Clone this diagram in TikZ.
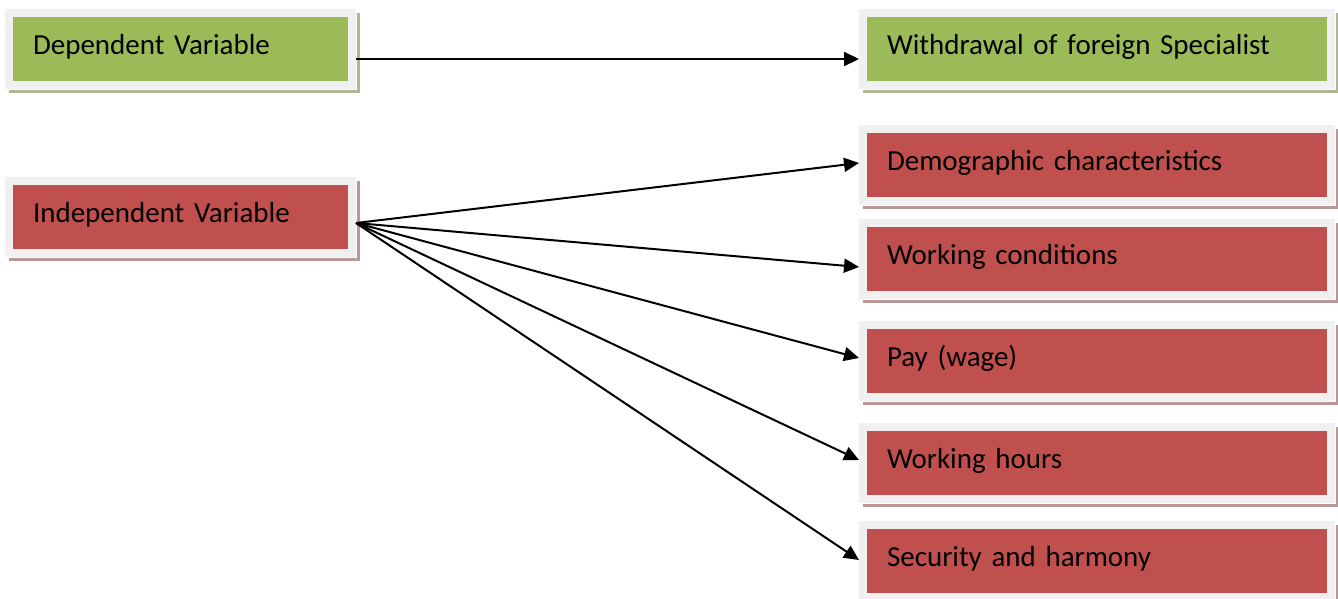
\documentclass[tikz,border=0pt]{standalone}
\usepackage{fontspec}
\setmainfont{Carlito}
\usetikzlibrary{arrows.meta}
\definecolor{gfill}{HTML}{9BBB59}
\definecolor{rfill}{HTML}{C0504D}
\definecolor{frame}{HTML}{F0F0F0}
\definecolor{gshadow}{HTML}{B0B694}
\definecolor{rshadow}{HTML}{BA9797}
\tikzset{
  box/.style={rectangle, inner xsep=24pt, inner ysep=0pt, minimum height=72pt,
    align=left, text height=20pt, text depth=8.5pt,
    font=\fontsize{29}{34}\selectfont, text=black,
    draw=frame, line width=8pt,
    preaction={draw=#1, fill=#1, line width=8pt, transform canvas={shift={(4pt,-4pt)}}},
    preaction={draw=white, line width=10pt}},
  gbox/.style={box=gshadow, fill=gfill},
  rbox/.style={box=rshadow, fill=rfill},
  lbox/.style={text width=295pt},
  wbox/.style={text width=420pt},
  conn/.style={line width=2pt, -{Triangle[length=15pt,width=14pt]}}
}
\begin{document}
\begin{tikzpicture}[x=1pt,y=-1pt]
\useasboundingbox (0,0) rectangle (1338,598);
\node[gbox,lbox] (dep) at (180.5,49) {Dependent Variable};
\node[rbox,lbox] (ind) at (180.5,217) {Independent Variable};
\node[gbox,wbox] (wd) at (1097,49) {Withdrawal of foreign Specialist};
\node[rbox,wbox] (demo) at (1097,165) {Demographic characteristics};
\node[rbox,wbox] (wc) at (1097,259) {Working conditions};
\node[rbox,wbox] (pay) at (1097,361) {Pay (wage)};
\node[rbox,wbox] (wh) at (1097,463) {Working hours};
\node[rbox,wbox] (sec) at (1097,561) {Security and harmony};
\draw[conn] ([shift={(0,10)}]dep.east) -- ([shift={(0,10)}]wd.west);
\draw[conn] ([shift={(0,6)}]ind.east) -- ([shift={(0,-2)}]demo.west);
\draw[conn] ([shift={(0,6)}]ind.east) -- ([shift={(0,8)}]wc.west);
\draw[conn] ([shift={(0,6)}]ind.east) -- ([shift={(0,-3)}]pay.west);
\draw[conn] ([shift={(0,6)}]ind.east) -- ([shift={(0,-3)}]wh.west);
\draw[conn] ([shift={(0,6)}]ind.east) -- ([shift={(0,-1)}]sec.west);
\end{tikzpicture}
\end{document}
